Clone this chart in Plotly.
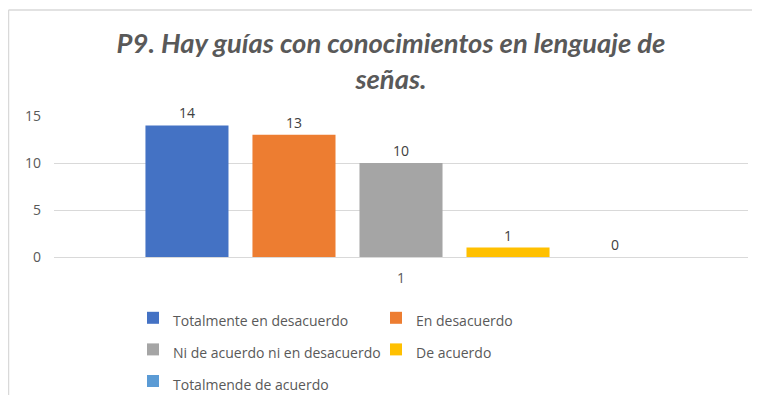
import plotly.graph_objects as go

categories = ["1"]
series_names = ["Totalmente en desacuerdo", "En desacuerdo",
                "Ni de acuerdo ni en desacuerdo", "De acuerdo",
                "Totalmende de acuerdo"]
series_values = [14, 13, 10, 1, 0]
series_colors = ["#4472C4", "#ED7D31", "#A5A5A5", "#FFC000", "#5B9BD5"]
y_ticks = [0, 5, 10, 15]

# page has an 8px body margin; figure is drawn at (8, 8); keep it inside the window
OFF = 8
W, H = 760 - 2 * OFF, 403 - 2 * OFF
plot_l, plot_r, plot_t, plot_b = 54, 748, 116, 257   # screen pixels
ml, mr = plot_l - OFF, W - (plot_r - OFF)
mt, mb = plot_t - OFF, H - (plot_b - OFF)
pw, ph = W - ml - mr, H - mt - mb

def px_x(x):  # screen x -> paper
    return (x - OFF - ml) / pw

def px_y(y):  # screen y -> paper
    return (H - mb - (y - OFF)) / ph

fig = go.Figure()
for name, val, col in zip(series_names, series_values, series_colors):
    fig.add_trace(go.Bar(
        x=categories, y=[val],
        name=f"<span style='font-size:14px'>{name}</span>",
        marker_color=col, marker_line_width=0,
        text=[str(val)], textposition="outside", cliponaxis=False,
        textfont=dict(size=14, color="#404040", family="Open Sans"),
    ))

border = dict(color="#D9D9D9", width=1.5)
fig.update_layout(
    width=W, height=H,
    margin=dict(l=ml, r=mr, t=mt, b=mb, autoexpand=False),
    paper_bgcolor="white", plot_bgcolor="white",
    barmode="group", bargap=0.229, bargroupgap=0.224,
    title=dict(text="<b><i>P9. Hay guías con conocimientos en lenguaje de<br>señas.</i></b>",
               x=px_x(391), xref="paper", xanchor="center",
               y=1 - (53 - OFF) / H, yanchor="middle",
               font=dict(family="Lato", size=27.4, color="#595959")),
    font=dict(family="Open Sans", color="#595959", size=14),
    showlegend=True,
    legend=dict(orientation="h", x=px_x(133), xanchor="left",
                y=px_y(297), yanchor="top",
                entrywidth=198, entrywidthmode="pixels",
                font=dict(size=22, color="#595959", family="Open Sans"),
                itemclick=False, traceorder="normal"),
    shapes=[
        dict(type="line", xref="paper", yref="paper",
             x0=px_x(8.5), x1=px_x(760), y0=px_y(10), y1=px_y(10),
             line=border, layer="below"),
        dict(type="line", xref="paper", yref="paper",
             x0=px_x(8.5), x1=px_x(8.5), y0=px_y(10), y1=px_y(403),
             line=border, layer="below"),
    ],
)
fig.update_yaxes(range=[0, 15], tickvals=y_ticks, showgrid=True,
                 gridcolor="#D9D9D9", gridwidth=1, zeroline=False,
                 showline=False, ticks="", ticklabelstandoff=12,
                 tickfont=dict(size=14, color="#595959"))
fig.update_xaxes(showline=True, linecolor="#D9D9D9", linewidth=1, ticks="",
                 ticklabelstandoff=8, tickfont=dict(size=14, color="#595959"))

fig.write_html("out.html")
